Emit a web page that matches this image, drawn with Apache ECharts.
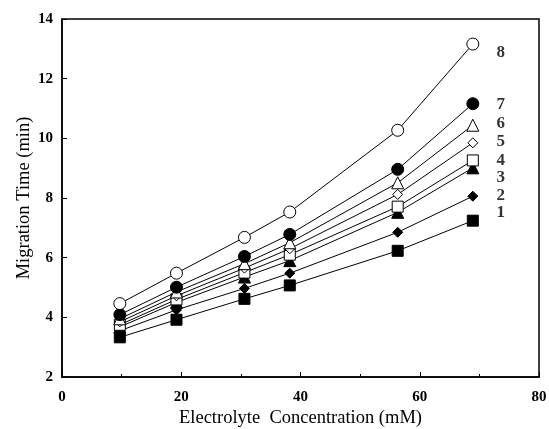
<!DOCTYPE html>
<html><head><meta charset="utf-8">
<script src="https://cdn.jsdelivr.net/npm/echarts@6/dist/echarts.min.js"></script>
<style>html,body{margin:0;padding:0;background:#fff}#c{width:549px;height:429px}</style>
</head><body><div id="c"></div>
<script>
const concentrations = [9.7, 19.2, 30.6, 38.2, 56.3, 68.9];
const s1 = [3.33, 3.92, 4.62, 5.07, 6.23, 7.24];
const s2 = [3.55, 4.25, 4.97, 5.48, 6.85, 8.06];
const s3 = [3.68, 4.5, 5.35, 5.9, 7.52, 9.01];
const s4 = [3.75, 4.6, 5.5, 6.1, 7.71, 9.26];
const s5 = [3.85, 4.72, 5.65, 6.3, 8.12, 9.85];
const s6 = [3.95, 4.85, 5.8, 6.5, 8.51, 10.44];
const s7 = [4.09, 5.01, 6.04, 6.78, 8.96, 11.16];
const s8 = [4.46, 5.48, 6.68, 7.53, 10.27, 13.16];
const seriesNames = ['1','2','3','4','5','6','7','8'];
const labelX = 73.6;
const labelY = [7.5, 8.07, 8.67, 9.24, 9.88, 10.48, 11.12, 12.89];

const styles = [
  {symbol:'rect', size:11, fill:'#000'},
  {symbol:'diamond', size:10, fill:'#000'},
  {symbol:'triangle', size:12, fill:'#000'},
  {symbol:'rect', size:11, fill:'#fff'},
  {symbol:'diamond', size:10, fill:'#fff'},
  {symbol:'triangle', size:12, fill:'#fff'},
  {symbol:'circle', size:12, fill:'#000'},
  {symbol:'circle', size:12, fill:'#fff'}
];
const allData = [s1,s2,s3,s4,s5,s6,s7,s8];
const font = 'Liberation Serif';
const series = allData.map((d,i)=>({
  name: seriesNames[i], type:'line', z: 2+i,
  data: d.map((v,j)=>[concentrations[j], v]),
  symbol: styles[i].symbol, symbolSize: styles[i].size, showAllSymbol:true,
  lineStyle:{color:'#000', width:1},
  itemStyle:{color:styles[i].fill, borderColor:'#000', borderWidth:1},
  animation:false
}));
series.push({
  type:'scatter', symbolSize:0, animation:false,
  data: labelY.map((v,i)=>[labelX, v, seriesNames[i]]),
  label:{show:true, position:'inside', formatter:p=>p.data[2], color:'#000',
    fontFamily:font, fontSize:17, fontWeight:'bold'}
});
const chart = echarts.init(document.getElementById('c'));
chart.setOption({
  backgroundColor:'#fff',
  grid:{left:62, right:10, top:19, bottom:52, show:true, borderColor:'#000', borderWidth:1.5,
    containLabel:false, outerBoundsMode:'none'},
  xAxis:{type:'value', min:0, max:80, interval:20,
    name:'Electrolyte  Concentration (mM)', nameLocation:'middle', nameGap:32, nameMoveOverlap:false,
    nameTextStyle:{fontFamily:font, fontSize:18.5, color:'#000'},
    axisLine:{lineStyle:{color:'#000', width:1.5}},
    axisTick:{inside:true, length:5, lineStyle:{color:'#000'}},
    minorTick:{show:true, splitNumber:2, length:3, lineStyle:{color:'#000'}},
    axisLabel:{fontFamily:font, fontSize:15, fontWeight:'bold', color:'#000', margin:13},
    splitLine:{show:false}},
  yAxis:{type:'value', min:2, max:14, interval:2,
    name:'Migration Time (min)', nameLocation:'middle', nameGap:28, nameMoveOverlap:false,
    nameTextStyle:{fontFamily:font, fontSize:18.5, color:'#000'},
    axisLine:{lineStyle:{color:'#000', width:1.5}},
    axisTick:{inside:true, length:5, lineStyle:{color:'#000'}},
    axisLabel:{fontFamily:font, fontSize:15, fontWeight:'bold', color:'#000', margin:9},
    splitLine:{show:false}},
  series: series
});
</script></body></html>
